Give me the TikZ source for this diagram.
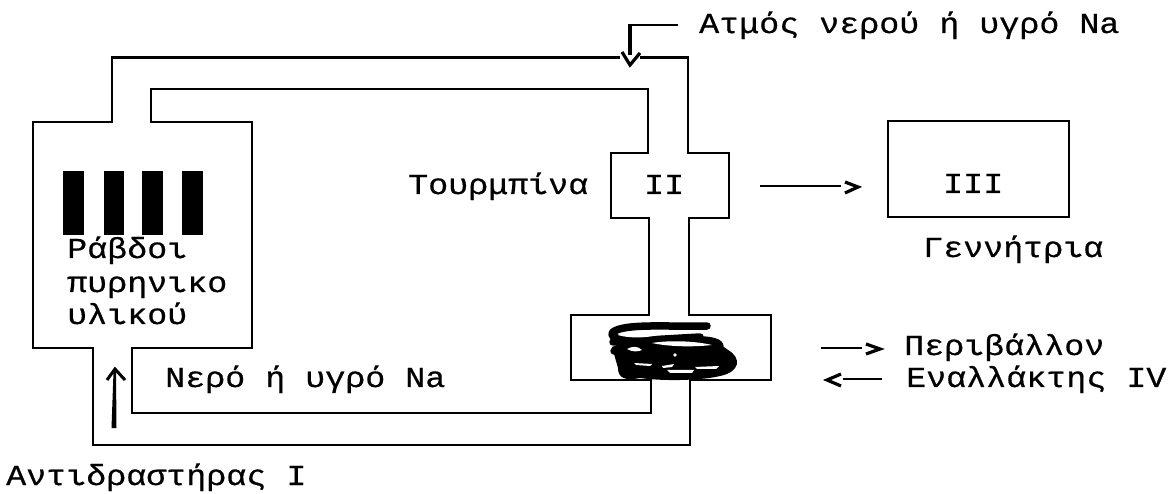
\documentclass[tikz,border=0pt]{standalone}
\usepackage{fontspec}
\setmainfont{Liberation Mono}[FakeStretch=1.15,FakeBold=0.6]
\tikzset{
  x=1pt,y=-1pt,
  pipe/.style={line width=2.8pt,line join=miter},
  lab/.style={inner sep=0pt,anchor=base west,font=\fontsize{29}{29}\selectfont},
  rod/.style={fill=black,draw=none,inner sep=0pt,minimum width=20.5pt,minimum height=64pt,anchor=north west},
  arr/.style={line width=2.6pt},
  tipp/.style={line width=3.2pt,line join=miter},
  coil/.style={line width=7.5pt,line cap=round,line join=round},
  genbox/.style={draw,line width=2.8pt,inner sep=0pt,minimum width=181pt,minimum height=96pt,anchor=north west},
}
\begin{document}
\begin{tikzpicture}
\useasboundingbox (0,0) rectangle (1168,494);
% pipes
\draw[pipe] (620,57.5) -- (112,57.5) -- (112,122) -- (33,122) -- (33,348) -- (93,348) -- (93,445) -- (690,445) -- (690,380) -- (771,380) -- (771,315) -- (689,315) -- (689,218) -- (729,218) -- (729,153) -- (688,153) -- (688,57.5) -- (640,57.5);
\draw[pipe] (151,89) -- (648,89) -- (648,153) -- (611,153) -- (611,218) -- (649,218) -- (649,315) -- (571,315) -- (571,380) -- (651,380) -- (651,413) -- (132,413) -- (132,348) -- (252,348) -- (252,122) -- (151,122) -- cycle;
% rods
\node[rod,minimum width=21pt] (r1) at (63,171) {};
\node[rod,minimum width=19.5pt] (r2) at (104,171) {};
\node[rod,minimum width=21pt] (r3) at (142,171) {};
\node[rod,minimum width=21pt] (r4) at (182,171) {};
% generator
\node[genbox] (gen) at (886.6,119.6) {};
% coil
\fill (612,347) .. controls (630,338) and (715,336) .. (728,350) .. controls (742,358) and (740,372) .. (720,376) .. controls (700,381) and (660,381) .. (640,378) .. controls (625,381) and (618,378) .. (618,368) -- cycle;
\draw[coil] (707,326) .. controls (670,327) and (625,323) .. (613,332) .. controls (604,343) and (660,341) .. (680,340) .. controls (700,339) and (721,340) .. (720,347) .. controls (715,353) and (640,353) .. (614,351);
\draw[coil] (613,342) -- (700,337);
\fill[white] (618,335) .. controls (630,331) and (655,331) .. (667,332) .. controls (655,338) and (630,339) .. (618,335) -- cycle;
\fill[white] (652,343) .. controls (670,340) and (695,341) .. (712,345) .. controls (695,347) and (670,347) .. (652,343) -- cycle;
\fill[white] (627,349) .. controls (632,346) and (638,346) .. (642,350) .. controls (638,352) and (632,352) .. (627,349) -- cycle;
\fill[white] (634,363) -- (652,364) -- (650,366) -- (636,365) -- cycle;
\fill[white] (662,366) -- (674,364) -- (672,367) -- (663,368) -- cycle;
\fill[white] (667,370) -- (694,370) -- (692,373) -- (670,373) -- cycle;
\fill[white] (695,367) -- (719,366) -- (716,369) -- (697,369) -- cycle;
\fill[white] (675,355) circle[radius=1.8];
% arrow coordinates
\coordinate (sa) at (678,25);
\coordinate (sb) at (630,25);
\coordinate (sc) at (630,65);
\draw[line width=2.6pt] (sa) -- (sb);
\draw[line width=3.4pt] (630,24) -- (630,55);
\draw[tipp] (622,52) -- (sc) -- (640,53);
\coordinate (ta) at (760,186);
\coordinate (tb) at (841,186);
\draw[arr] (ta) -- (tb);
\draw[tipp] (845,182) -- (858,187) -- (845,193);
\coordinate (pa) at (821,348);
\coordinate (pb) at (862,348);
\draw[arr] (pa) -- (pb);
\draw[tipp] (866,344) -- (880,349) -- (866,354);
\coordinate (ea) at (882,379);
\coordinate (eb) at (843,379);
\draw[arr] (ea) -- (eb);
\draw[tipp] (841,374) -- (827,380) -- (841,386);
\coordinate (ua) at (114,428);
\coordinate (ub) at (115,372);
\fill (111.5,428) -- (113.5,372) -- (116,372) -- (116.5,428) -- cycle;
\draw[line width=3pt,line join=miter] (107,380) -- (115,369) -- (125,380);
% labels
\node[lab] (t1) at (699,33) {Ατμός νερού ή υγρό Na};
\node[lab] (t2) at (408,194) {Τουρμπίνα};
\node[lab] (t3) at (644,194) {II};
\node[lab] (t4) at (943,193) {III};
\node[lab] (t5) at (923,257) {Γεννήτρια};
\node[lab] (t6) at (67,258) {Ράβδοι};
\node[lab] (t7) at (67,292) {πυρηνικο};
\node[lab] (t8) at (67,324) {υλικού};
\node[lab] (t9) at (165,387) {Νερό ή υγρό Na};
\node[lab] (t10) at (6,485) {Αντιδραστήρας I};
\node[lab] (t11) at (904,355) {Περιβάλλον};
\node[lab] (t12) at (906,387) {Εναλλάκτης IV};
\end{tikzpicture}
\end{document}
